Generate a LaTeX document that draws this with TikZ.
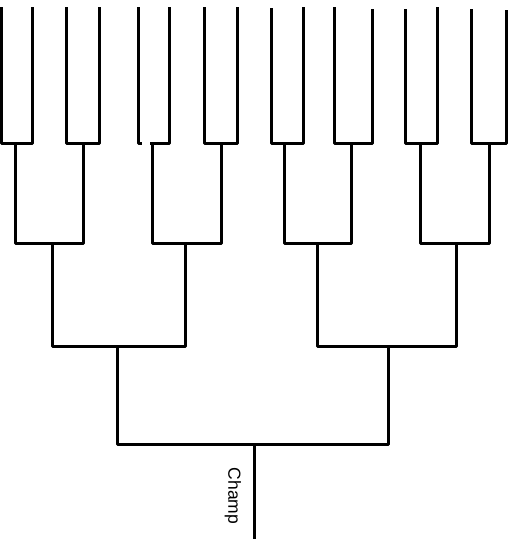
\documentclass[tikz,border=0pt]{standalone}
\usepackage{fontspec}
\setmainfont{Liberation Sans}
\begin{document}
\begin{tikzpicture}[x=1pt,y=-1pt,
  br/.style={draw=black,line width=3pt,line join=round,line cap=butt},
  lbl/.style={font=\fontsize{17.5}{19}\selectfont,rotate=-90,inner sep=0pt}]
\useasboundingbox (0,0) rectangle (516,539);
% leaf tops
\foreach \i/\x/\y in {1/1/7,2/32/7,3/66/7,4/99/7,5/138/7,6/169/7,7/204/7,8/237/7,
  9/271/8,10/303/7,11/334/7,12/372/9,13/405/9,14/437/7,15/471/9,16/506/10}
  \coordinate (t\i) at (\x,\y);
% first-round match points
\foreach \i/\x in {1/15,2/83,3/152,4/221,5/284,6/351,7/420,8/489}
  \coordinate (m\i) at (\x,143);
% second-round
\foreach \i/\x in {1/52,2/185,3/317,4/456}
  \coordinate (n\i) at (\x,243);
% semifinal
\coordinate (p1) at (117,346);
\coordinate (p2) at (388,346);
% final
\coordinate (c) at (254,444);
\coordinate (champ) at (254,539);
\coordinate (g5) at (142,143);
\coordinate (g5b) at (150,143);

% first round
\draw[br] (t1) |- (m1) -| (t2);
\draw[br] (t3) |- (m2) -| (t4);
\draw[br] (t5) |- (g5);
\draw[br] (g5b) -- (m3) -| (t6);
\draw[br] (t7) |- (m4) -| (t8);
\draw[br] (t9) |- (m5) -| (t10);
\draw[br] (t11) |- (m6) -| (t12);
\draw[br] (t13) |- (m7) -| (t14);
\draw[br] (t15) |- (m8) -| (t16);
% second round
\draw[br] (m1) |- (n1) -| (m2);
\draw[br] (m3) |- (n2) -| (m4);
\draw[br] (m5) |- (n3) -| (m6);
\draw[br] (m7) |- (n4) -| (m8);
% semifinals
\draw[br] (n1) |- (p1) -| (n2);
\draw[br] (n3) |- (p2) -| (n4);
% final
\draw[br] (p1) |- (c) -| (p2);
\draw[br] (c) -- (champ);
\node[lbl] (lab) at (233,496) {Champ};
\end{tikzpicture}
\end{document}
